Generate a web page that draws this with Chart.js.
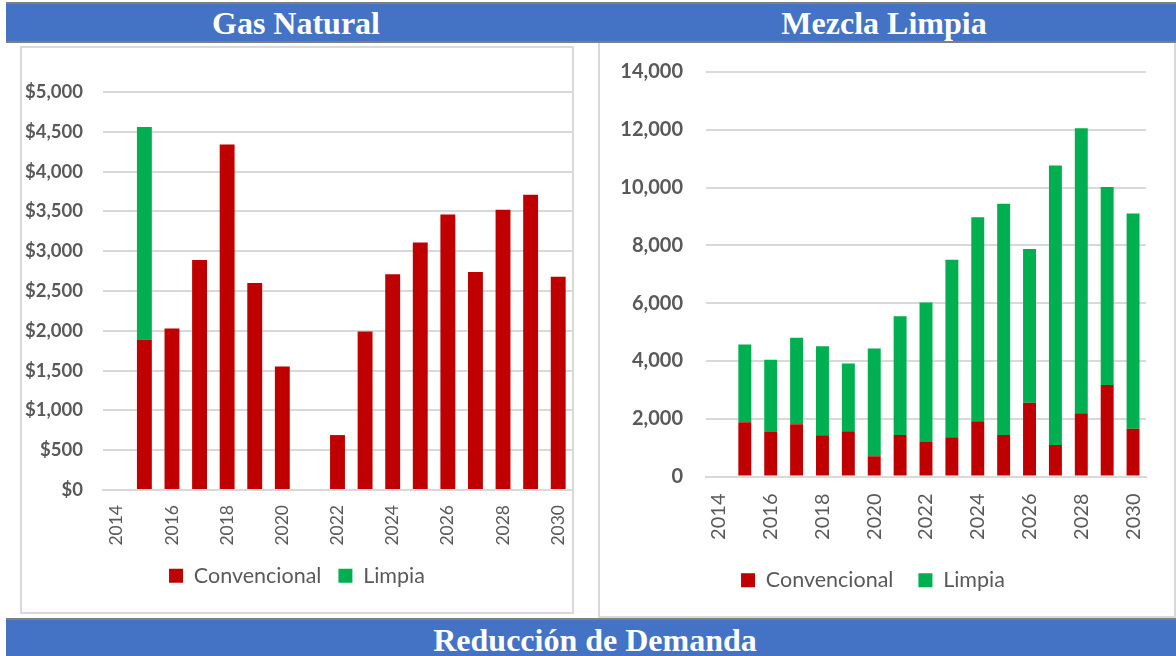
<!DOCTYPE html>
<html>
<head>
<meta charset="utf-8">
<title>Gas Natural / Mezcla Limpia</title>
<script src="https://cdn.jsdelivr.net/npm/chart.js"></script>
<style>
    body { margin: 0; width: 1176px; height: 656px; background: #fff; position: relative; overflow: hidden; }
    .rule { position: absolute; left: 6px; right: 0; height: 2px; background: #7f7f7f; }
    .band { position: absolute; left: 6px; right: 0; background: #4472c4; }
    .head { position: absolute; color: #fff; font: bold 32px "Liberation Serif", "Times New Roman", serif; text-align: center; white-space: nowrap; }
    .panel { position: absolute; box-sizing: border-box; border: 2px solid #d9d9d9; }
    canvas { position: absolute; }
</style>
</head>
<body>

<div class="rule" style="top:2px"></div>
<div class="band" style="top:4px; height:37px"></div>
<div class="rule" style="top:41px"></div>
<div class="head" style="left:0; width:592px; top:5px; line-height:37px">Gas Natural</div>
<div class="head" style="left:588px; width:592px; top:5px; line-height:37px">Mezcla Limpia</div>

<div class="panel" style="left:20px; top:46px; width:554px; height:568px"></div>
<div class="panel" style="left:598px; top:43px; width:578px; height:575px; border-top:none"></div>

<canvas id="chartGas" width="550" height="565" style="left:22px; top:48px"></canvas>
<canvas id="chartMezcla" width="574" height="572" style="left:600px; top:44px"></canvas>

<div class="rule" style="top:618px"></div>
<div class="band" style="top:620px; height:36px"></div>
<div class="head" style="left:295px; width:600px; top:620px; line-height:40px">Reducción de Demanda</div>

<script>
// años (se rotula uno de cada dos)
var years = ['2014', '2015', '2016', '2017', '2018', '2019', '2020', '2021', '2022',
             '2023', '2024', '2025', '2026', '2027', '2028', '2029', '2030'];

// Gas Natural, $
var gasConvencional = [0, 1890, 2030, 2890, 4340, 2600, 1550, 0, 690, 1990, 2710, 3110, 3460, 2740, 3520, 3710, 2680];
var gasLimpia       = [0, 2670, 0, 0, 0, 0, 0, 0, 0, 0, 0, 0, 0, 0, 0, 0, 0];

// Mezcla Limpia
var mezclaConvencional = [0, 1880, 1540, 1810, 1430, 1570, 700, 1440, 1190, 1360, 1910, 1440, 2550, 1090, 2190, 3170, 1650];
var mezclaLimpia       = [0, 2690, 2500, 2990, 3080, 2340, 3730, 4110, 4830, 6140, 7060, 8000, 5320, 9670, 9860, 6850, 7450];

// escalas del eje y
var gasAxis = { min: 0, max: 5000, step: 500 };
var mezclaAxis = { min: 0, max: 14000, step: 2000 };

var RED = '#c00000';
var GREEN = '#00b050';
var GRID = '#d9d9d9';
var TEXT = '#595959';

Chart.defaults.font.family = 'Lato';
Chart.defaults.color = TEXT;

function makeChart(id, conv, limpia, axis, s) {
    return new Chart(document.getElementById(id), {
        type: 'bar',
        data: {
            labels: years,
            datasets: [{
                label: 'Convencional',
                data: conv,
                backgroundColor: RED,
                categoryPercentage: 1,
                barPercentage: s.bar
            }, {
                label: 'Limpia',
                data: limpia,
                backgroundColor: GREEN,
                categoryPercentage: 1,
                barPercentage: s.bar
            }]
        },
        options: {
            responsive: false,
            animation: false,
            layout: { padding: { top: s.top, right: s.right, bottom: s.bottom, left: 0 } },
            plugins: {
                tooltip: { enabled: false },
                legend: {
                    position: 'bottom',
                    labels: {
                        boxWidth: 14,
                        boxHeight: 14,
                        padding: s.legendPad,
                        color: TEXT,
                        font: { size: 21.5 }
                    }
                }
            },
            scales: {
                x: {
                    stacked: true,
                    grid: { display: false, drawTicks: false },
                    border: { color: GRID, width: 2 },
                    ticks: {
                        autoSkip: false,
                        minRotation: 90,
                        maxRotation: 90,
                        padding: s.xPad,
                        font: { size: s.xFont },
                        callback: function (val, i) { return i % 2 === 0 ? years[i] : ''; }
                    },
                    // the axis box clips its labels, so it must be tall enough for them
                    afterFit: function (scale) {
                        scale.height = s.xHeight;
                        scale.paddingLeft = 0;
                        scale.paddingRight = 0;
                    }
                },
                y: {
                    stacked: true,
                    min: axis.min,
                    max: axis.max,
                    grid: { color: GRID, lineWidth: 2, drawTicks: false },
                    border: { display: false },
                    ticks: {
                        stepSize: axis.step,
                        padding: s.yPad,
                        font: { size: s.yFont, weight: 'bold' },
                        callback: function (v) { return s.prefix + v.toLocaleString('en-US'); }
                    },
                    afterFit: function (scale) {
                        scale.width = s.yWidth;
                        scale.paddingTop = 0;
                        scale.paddingBottom = 0;
                    }
                }
            }
        }
    });
}

makeChart('chartGas', gasConvencional, gasLimpia, gasAxis, {
    bar: 0.54, top: 44, right: 0, bottom: 16.5, prefix: '$', legendPad: 17,
    xPad: 15, xFont: 17.5, xHeight: 58, yPad: 20, yFont: 18.5, yWidth: 81
});

makeChart('chartMezcla', mezclaConvencional, mezclaLimpia, mezclaAxis, {
    bar: 0.5, top: 28, right: 28, bottom: 15, prefix: '', legendPad: 25,
    xPad: 17, xFont: 20, xHeight: 68, yPad: 23, yFont: 20, yWidth: 106
});
</script>
</body>
</html>
